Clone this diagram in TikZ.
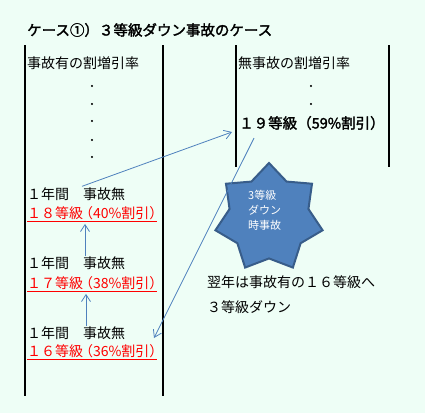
\documentclass[tikz,border=0pt]{standalone}
\usepackage{fontspec}
\setmainfont[AutoFakeBold=2]{Noto Sans CJK JP}
\usetikzlibrary{arrows.meta,shapes.geometric}
\definecolor{mint}{HTML}{EEFEF6}
\definecolor{linkblue}{HTML}{4F81BD}
\definecolor{starline}{HTML}{385D8A}
\newcommand\gradetext[2]{#1等級\kern-.3em（#2\%割引）}
\tikzset{
  txt/.style={anchor=west,inner sep=0pt,font=\fontsize{14}{16}\selectfont},
  grade/.style={txt,text=red},
  dotmark/.style={inner sep=0pt,font=\fontsize{14}{16}\selectfont\bfseries},
  conn/.style={draw=linkblue,line width=0.8pt,-{Straight Barb[length=7pt,width=9pt]}},
  rule/.style={line width=1.2pt},
}
\begin{document}
\begin{tikzpicture}[x=1pt,y=-1pt]
  \fill[mint] (0,0) rectangle (425,413);
  \useasboundingbox (0,0) rectangle (425,413);
  % column rules
  \draw[rule] (25,45) -- (25,396);
  \draw[rule] (163,45) -- (163,396);
  \draw[rule] (236,45) -- (236,167);
  \draw[rule] (389,45) -- (389,167);
  \node[txt,font=\fontsize{14.5}{16}\selectfont\bfseries] (title) at (27,30) {ケース①）３等級ダウン事故のケース};
  \node[txt] (lefthead) at (27,63) {事故有の割増引率};
  \node[txt] (righthead) at (238,63) {無事故の割増引率};
  \foreach \y [count=\i] in {86,104,121,140,157}
    \node[dotmark] (ldot\i) at (92,\y) {.};
  \foreach \y [count=\i] in {86,104}
    \node[dotmark] (rdot\i) at (311,\y) {.};
  \node[txt,font=\fontsize{14.5}{16}\selectfont\bfseries] (r19) at (239,123) {１９等級（59\%割引）};
  % left column
  \node[txt] (y1a) at (27,194) {１年間　事故無};
  \node[grade] (g18) at (27,213) {\gradetext{１８}{40}};
  \node[txt] (y1b) at (27,263) {１年間　事故無};
  \node[grade] (g17) at (27,283) {\gradetext{１７}{38}};
  \node[txt] (y1c) at (27,333) {１年間　事故無};
  \node[grade] (g16) at (27,351) {\gradetext{１６}{36}};
  \foreach \g in {g18,g17,g16}
    \draw[red,line width=1.2pt] ([yshift=-2pt]\g.south west) -- ++(130,0);
  \coordinate (landing) at (154,338);
  % burst
  \node[star,star points=7,star point ratio=1.36,minimum size=110pt,inner sep=0pt,
    fill=linkblue,draw=starline,line width=2pt] (burst) at (269,218) {};
  \node[anchor=north west,align=left,text=white,inner sep=0pt,
    font=\fontsize{11}{15}\selectfont] (burstlabel) at (248,190) {3等級\\ダウン\\時事故};
  \node[txt] (note1) at (207,282) {翌年は事故有の１６等級へ};
  \node[txt] (note2) at (207,307) {３等級ダウン};
  % arrows
  \draw[conn] ([xshift=58pt]y1b.north west) -- ([xshift=58pt,yshift=-4pt]g18.south west);
  \draw[conn] ([xshift=59pt]y1c.north west) -- ([xshift=59pt,yshift=-4pt]g17.south west);
  \draw[conn] ([xshift=55pt,yshift=1pt]y1a.north west) -- ([shift={(-7,9)}]r19.west);
  \draw[conn] ([shift={(15,8)}]r19.south west) -- (landing);
\end{tikzpicture}
\end{document}
